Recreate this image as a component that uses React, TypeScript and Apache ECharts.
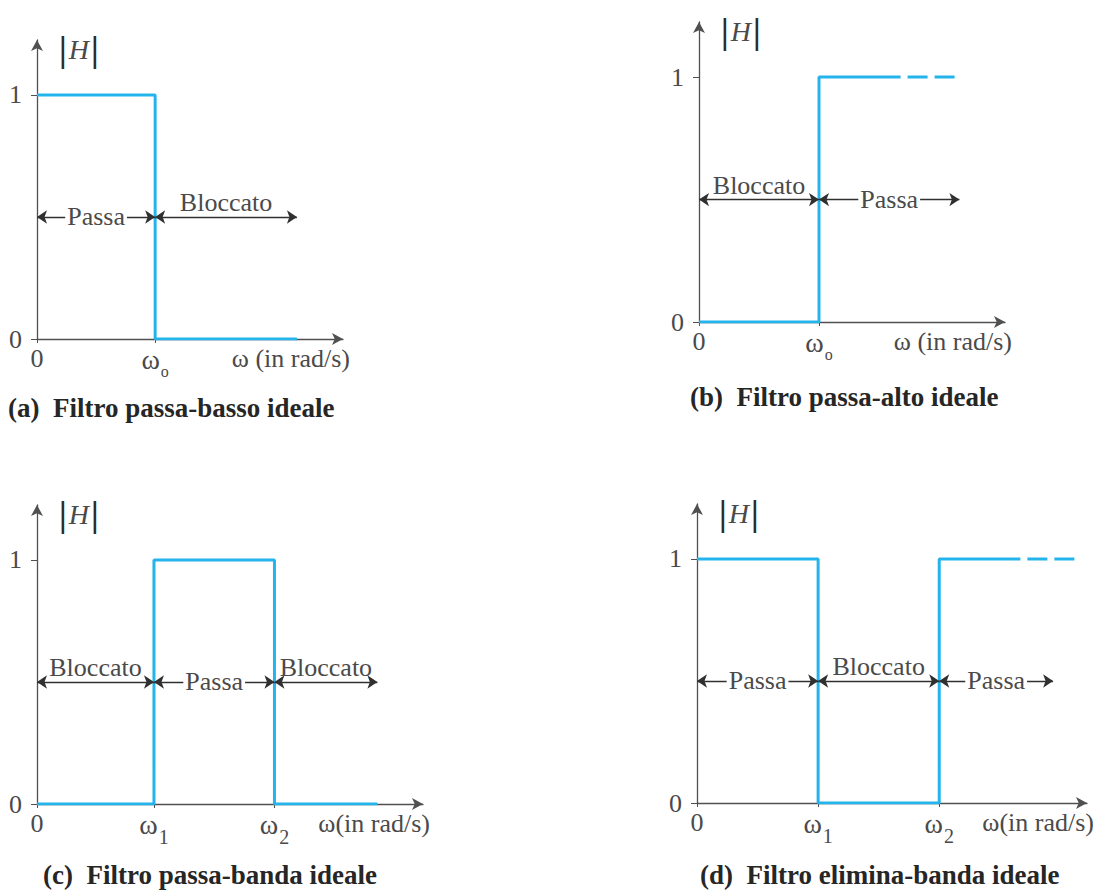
import { useEffect, useRef } from "react";
import * as echarts from "echarts";

const SERIF = '"Liberation Serif", "Times New Roman", Times, serif';
const BLUE = "#24b4ec";
const INK = "#4a4a4a";
const AXIS = "#505050";
const ARROW = "#303030";

// Shared gain axis
const gainTicks = [0, 1];
const gainMax = 1.225;
const bandLevel = 0.5;

// (a) ideal low-pass
const lowOmega = [0, 1, 2.2];
const lowGain = [1, 0, 0];
const lowTicks = [0, 1];
const lowTickLabels = ["0", "{w|ω}{o|o}"];
const lowBandFrom = [0, 1];
const lowBandTo = [1, 2.2];
const lowBandText = ["Passa", "Bloccato"];
const lowBandInline = [true, false];

// (b) ideal high-pass
const highOmega = [0, 1, 1.68];
const highGain = [0, 1, 1];
const highTail = [1.68, 2.16];
const highTicks = [0, 1];
const highTickLabels = ["0", "{w|ω}{o|o}"];
const highBandFrom = [0, 1];
const highBandTo = [1, 2.17];
const highBandText = ["Bloccato", "Passa"];
const highBandInline = [false, true];

// (c) ideal band-pass
const bpOmega = [0, 1, 2.03, 2.91];
const bpGain = [0, 1, 0, 0];
const bpTicks = [0, 1, 2.03];
const bpTickLabels = ["0", "{w|ω}{n|1}", "{w|ω}{n|2}"];
const bpBandFrom = [0, 1, 2.03];
const bpBandTo = [1, 2.03, 2.91];
const bpBandText = ["Bloccato", "Passa", "Bloccato"];
const bpBandInline = [false, true, false];

// (d) ideal band-stop
const bsOmega = [0, 1, 2, 2.67];
const bsGain = [1, 0, 1, 1];
const bsTail = [2.67, 3.15];
const bsTicks = [0, 1, 2];
const bsTickLabels = ["0", "{w|ω}{n|1}", "{w|ω}{n|2}"];
const bsBandFrom = [0, 1, 2];
const bsBandTo = [1, 2, 2.94];
const bsBandText = ["Passa", "Bloccato", "Passa"];
const bsBandInline = [true, false, true];

type Panel = {
  grid: { left: number; top: number; width: number; height: number };
  xMax: number;
  omega: number[];
  gain: number[];
  tail: number[] | null;
  ticks: number[];
  tickLabels: string[];
  bandFrom: number[];
  bandTo: number[];
  bandText: string[];
  bandInline: boolean[];
  axisName: string;
  caption: string;
  captionLeft: number;
  captionTop: number;
};

const panels: Panel[] = [
  {
    grid: { left: 37, top: 40, width: 306, height: 299 },
    xMax: 2.59,
    omega: lowOmega,
    gain: lowGain,
    tail: null,
    ticks: lowTicks,
    tickLabels: lowTickLabels,
    bandFrom: lowBandFrom,
    bandTo: lowBandTo,
    bandText: lowBandText,
    bandInline: lowBandInline,
    axisName: "ω (in rad/s)",
    caption: "(a)\u00a0 Filtro passa-basso ideale",
    captionLeft: 8,
    captionTop: 394,
  },
  {
    grid: { left: 699, top: 22, width: 306, height: 300 },
    xMax: 2.55,
    omega: highOmega,
    gain: highGain,
    tail: highTail,
    ticks: highTicks,
    tickLabels: highTickLabels,
    bandFrom: highBandFrom,
    bandTo: highBandTo,
    bandText: highBandText,
    bandInline: highBandInline,
    axisName: "ω (in rad/s)",
    caption: "(b)\u00a0 Filtro passa-alto ideale",
    captionLeft: 690,
    captionTop: 383,
  },
  {
    grid: { left: 37, top: 505, width: 386, height: 299 },
    xMax: 3.3,
    omega: bpOmega,
    gain: bpGain,
    tail: null,
    ticks: bpTicks,
    tickLabels: bpTickLabels,
    bandFrom: bpBandFrom,
    bandTo: bpBandTo,
    bandText: bpBandText,
    bandInline: bpBandInline,
    axisName: "ω(in rad/s)",
    caption: "(c)\u00a0 Filtro passa-banda ideale",
    captionLeft: 43,
    captionTop: 861,
  },
  {
    grid: { left: 697, top: 504, width: 390, height: 299 },
    xMax: 3.22,
    omega: bsOmega,
    gain: bsGain,
    tail: bsTail,
    ticks: bsTicks,
    tickLabels: bsTickLabels,
    bandFrom: bsBandFrom,
    bandTo: bsBandTo,
    bandText: bsBandText,
    bandInline: bsBandInline,
    axisName: "ω(in rad/s)",
    caption: "(d)\u00a0 Filtro elimina-banda ideale",
    captionLeft: 700,
    captionTop: 861,
  },
];

const textBase = { fontFamily: SERIF, fontSize: 26, color: INK };

const omegaRich = {
  w: { fontFamily: SERIF, fontSize: 28, color: INK, lineHeight: 26, verticalAlign: "top" },
  o: { fontFamily: SERIF, fontSize: 16, color: INK, padding: [18, 0, 0, 1] },
  n: { fontFamily: SERIF, fontSize: 20, color: INK, padding: [17, 0, 0, 1] },
};

const bandLabel = (text: string, inline: boolean) =>
  inline
    ? {
        show: true,
        formatter: text,
        position: "middle",
        verticalAlign: "middle",
        distance: 0,
        backgroundColor: "#ffffff",
        padding: [0, 2],
        ...textBase,
      }
    : {
        show: true,
        formatter: text,
        position: "middle",
        distance: 1,
        ...textBase,
      };

function buildOption() {
  const axisLineStyle = { color: AXIS, width: 1.3 };
  return {
    animation: false,
    backgroundColor: "#ffffff",
    title: panels.map((p) => ({
      text: p.caption,
      left: p.captionLeft,
      top: p.captionTop,
      padding: 0,
      textStyle: {
        fontFamily: SERIF,
        fontSize: 27,
        fontWeight: "bold",
        color: "#262626",
        lineHeight: 27,
      },
    })),
    grid: panels.map((p) => ({
      ...p.grid,
      containLabel: false,
      outerBoundsMode: "none",
    })),
    xAxis: panels.map((p, i) => ({
      type: "value",
      gridIndex: i,
      min: 0,
      max: p.xMax,
      axisLine: {
        show: true,
        onZero: false,
        symbol: ["none", "arrow"],
        symbolSize: [9, 11],
        lineStyle: axisLineStyle,
      },
      axisTick: {
        show: true,
        customValues: p.ticks,
        length: 4,
        lineStyle: { color: AXIS },
      },
      axisLabel: {
        show: true,
        customValues: p.ticks,
        formatter: (v: number) => {
          const k = p.ticks.findIndex((t) => Math.abs(t - v) < 1e-6);
          return k >= 0 ? p.tickLabels[k] : "";
        },
        margin: 6,
        ...textBase,
        rich: omegaRich,
      },
      splitLine: { show: false },
      name: p.axisName,
      nameLocation: "end",
      nameGap: 7,
      nameTextStyle: {
        ...textBase,
        align: "right",
        verticalAlign: "top",
        padding: [6, 0, 0, 0],
      },
    })),
    yAxis: panels.map((p, i) => ({
      type: "value",
      gridIndex: i,
      min: 0,
      max: gainMax,
      axisLine: {
        show: true,
        onZero: false,
        symbol: ["none", "arrow"],
        symbolSize: [9, 11],
        lineStyle: axisLineStyle,
      },
      axisTick: {
        show: true,
        customValues: gainTicks,
        length: 6,
        lineStyle: { color: AXIS },
      },
      axisLabel: {
        show: true,
        customValues: gainTicks,
        margin: 15,
        ...textBase,
      },
      splitLine: { show: false },
      name: "{b||}{h|H}{b||}",
      nameLocation: "end",
      nameGap: -9,
      nameTextStyle: {
        align: "left",
        verticalAlign: "middle",
        padding: [0, 0, 0, 22],
        rich: {
          b: { fontFamily: SERIF, fontSize: 35, fontWeight: "bold", color: "#2a2a2a" },
          h: { fontFamily: SERIF, fontSize: 28, fontStyle: "italic", color: INK, padding: [0, 2] },
        },
      },
    })),
    series: panels.flatMap((p, i) => {
      const list: any[] = [
        {
          type: "line",
          xAxisIndex: i,
          yAxisIndex: i,
          step: "end",
          symbol: "none",
          silent: true,
          z: 3,
          data: p.omega.map((w, k) => [w, p.gain[k]]),
          lineStyle: { color: BLUE, width: 3 },
          markLine: {
            silent: true,
            animation: false,
            symbol: ["arrow", "arrow"],
            symbolSize: 10,
            lineStyle: { color: ARROW, width: 1.3, type: "solid" },
            emphasis: { disabled: true },
            data: p.bandFrom.map((from, k) => [
              { coord: [from, bandLevel], label: bandLabel(p.bandText[k], p.bandInline[k]) },
              { coord: [p.bandTo[k], bandLevel] },
            ]),
          },
        },
      ];
      if (p.tail) {
        const last = p.gain[p.gain.length - 1];
        list.push({
          type: "line",
          xAxisIndex: i,
          yAxisIndex: i,
          symbol: "none",
          silent: true,
          z: 3,
          data: p.tail.map((w) => [w, last]),
          lineStyle: { color: BLUE, width: 3, type: [20, 7], dashOffset: 20 },
        });
      }
      return list;
    }),
  };
}

export default function App() {
  const ref = useRef<HTMLDivElement | null>(null);

  useEffect(() => {
    document.body.style.margin = "0";
    if (!ref.current) return;
    const chart = echarts.init(ref.current, undefined, { renderer: "svg" });
    chart.setOption(buildOption() as any);
    return () => {
      chart.dispose();
    };
  }, []);

  return <div ref={ref} style={{ width: 1107, height: 891, background: "#fff" }} />;
}
